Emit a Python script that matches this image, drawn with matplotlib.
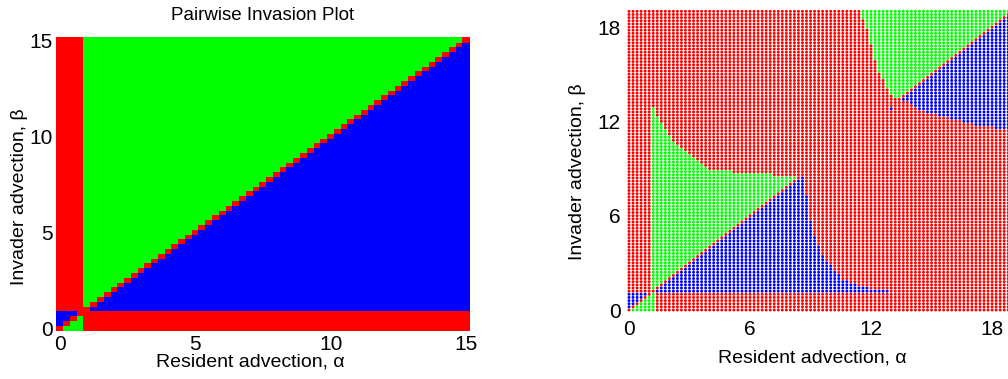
import numpy as np
import matplotlib
matplotlib.use("Agg")
import matplotlib.pyplot as plt

plt.rcParams['font.family'] = ['Liberation Sans', 'DejaVu Sans']

# ---------------- data ----------------
# Left panel: grid of resident (alpha) / invader (beta) advection values
left_step = 0.25
left_max = 15.0
left_threshold = 1.0          # critical advection where colours swap
left_ticks = [0, 5, 10, 15]

# Right panel: grid and region boundaries
right_step = 0.2
right_max = 19.0
right_ticks = [0, 6, 12, 18]
box_alpha_max = 1.2           # small lower-left box
box_beta_max = 1.0
green1_alpha_min = 1.2
green1_upper_alpha = [1.2, 1.6, 2.2, 3.0, 3.9, 5.0, 6.2, 7.0, 8.4]
green1_upper_beta = [12.8, 11.8, 10.6, 9.8, 9.0, 8.8, 8.7, 8.6, 8.5]
blue1_beta_min = 1.2
blue1_right_beta = [1.2, 1.5, 1.9, 3.2, 4.9, 8.2, 8.6]
blue1_right_alpha = [12.9, 11.4, 10.6, 9.75, 9.1, 8.7, 8.5]
green2_left_beta = [13.4, 13.9, 15.4, 18.3, 19.2]
green2_left_alpha = [13.4, 12.9, 12.3, 11.7, 11.4]
blue2_alpha_min = 13.4
blue2_lower_alpha = [13.4, 13.8, 14.5, 15.6, 17.3, 19.0]
blue2_lower_beta = [13.4, 13.3, 12.7, 12.3, 11.7, 11.5]
blue_extra_alpha = [13.0]
blue_extra_beta = [12.8]

RED, GREEN, BLUE = '#ff0000', '#00ff00', '#0000ff'
palette = np.array([RED, GREEN, BLUE])
eps = 1e-6

# ---------------- classification ----------------
def left_classes():
    a = np.round(np.arange(0, left_max + eps, left_step), 4)
    A, B = np.meshgrid(a, a, indexing='ij')
    cls = np.zeros(A.shape, dtype=int)
    low_a = A < left_threshold - eps
    low_b = B < left_threshold - eps
    both_low = low_a & low_b
    both_high = ~low_a & ~low_b
    cls[both_low & (B > A + eps)] = 2
    cls[both_low & (B < A - eps)] = 1
    cls[both_high & (B > A + eps)] = 1
    cls[both_high & (B < A - eps)] = 2
    return A, B, cls

def right_classes():
    a = np.round(np.arange(0, right_max + eps, right_step), 4)
    A, B = np.meshgrid(a, a, indexing='ij')
    cls = np.zeros(A.shape, dtype=int)
    above = B > A + eps
    below = B < A - eps
    box = (A <= box_alpha_max + eps) & (B <= box_beta_max + eps)
    cls[box & above] = 2
    cls[box & below] = 1
    g1 = (A >= green1_alpha_min - eps) & above & \
         (B <= np.interp(A, green1_upper_alpha, green1_upper_beta) + eps) & \
         (A <= green1_upper_alpha[-1] + eps)
    cls[g1] = 1
    b1 = (B >= blue1_beta_min - eps) & below & \
         (A <= np.interp(B, blue1_right_beta, blue1_right_alpha) + eps) & \
         (B <= blue1_right_beta[-1] + eps)
    cls[b1] = 2
    g2 = above & (B >= green2_left_beta[0] - eps) & \
         (A >= np.interp(B, green2_left_beta, green2_left_alpha) - eps)
    cls[g2] = 1
    b2 = below & (A >= blue2_alpha_min - eps) & \
         (B >= np.interp(A, blue2_lower_alpha, blue2_lower_beta) - eps)
    cls[b2] = 2
    for xa, xb in zip(blue_extra_alpha, blue_extra_beta):
        cls[np.isclose(A, xa) & np.isclose(B, xb)] = 2
    return A, B, cls

W, H = 1008, 379
fig = plt.figure(figsize=(W / 100, H / 100), dpi=100)

def px_axes(x0, y_top, x1, y_bot):
    return fig.add_axes([x0 / W, (H - y_bot) / H, (x1 - x0) / W, (y_bot - y_top) / H])

tick_fs = 15
label_fs = 14

# ---- left panel ----
ax1 = px_axes(60, 40, 466, 328)
A, B, cls = left_classes()
cell_marker = [(-1.41, -1), (1.41, -1), (1.41, 1), (-1.41, 1), (-1.41, -1)]
ax1.scatter(A.ravel(), B.ravel(), c=palette[cls.ravel()], s=27, marker=cell_marker,
            linewidths=0, clip_on=False)
ax1.set_xlim(0, 15)
ax1.set_ylim(0, 15)
ax1.set_xticks(left_ticks)
ax1.set_yticks(left_ticks)
ax1.tick_params(length=0, labelsize=tick_fs, pad=5)
ax1.tick_params(axis='y', pad=5)
for s in ax1.spines.values():
    s.set_visible(False)
fig.text(263 / W, 1 - 16 / H, 'Pairwise Invasion Plot', ha='center', va='center', fontsize=13.5)
fig.text(250 / W, 1 - 362 / H, 'Resident advection, α', ha='center', va='center', fontsize=label_fs)
fig.text(20 / W, 1 - 197 / H, 'Invader advection, β', ha='center', va='center',
         rotation=90, fontsize=label_fs)

# ---- right panel ----
ax2 = px_axes(629, 8, 1008, 310)
A, B, cls = right_classes()
ax2.scatter(A.ravel(), B.ravel(), c=palette[cls.ravel()], s=4.5, marker='o',
            linewidths=0, clip_on=False)
ax2.set_xlim(0, (1008 - 629) / 20.17)
ax2.set_ylim(0, (310 - 8) / 15.72)
ax2.set_xticks(right_ticks)
ax2.set_yticks(right_ticks)
ax2.tick_params(length=0, labelsize=tick_fs)
ax2.tick_params(axis='x', pad=7)
ax2.tick_params(axis='y', pad=6)
for s in ax2.spines.values():
    s.set_visible(False)
fig.text(812 / W, 1 - 358 / H, 'Resident advection, α', ha='center', va='center', fontsize=label_fs)
fig.text(578 / W, 1 - 172 / H, 'Invader advection, β', ha='center', va='center',
         rotation=90, fontsize=label_fs)

fig.savefig('out.png', dpi=100)
